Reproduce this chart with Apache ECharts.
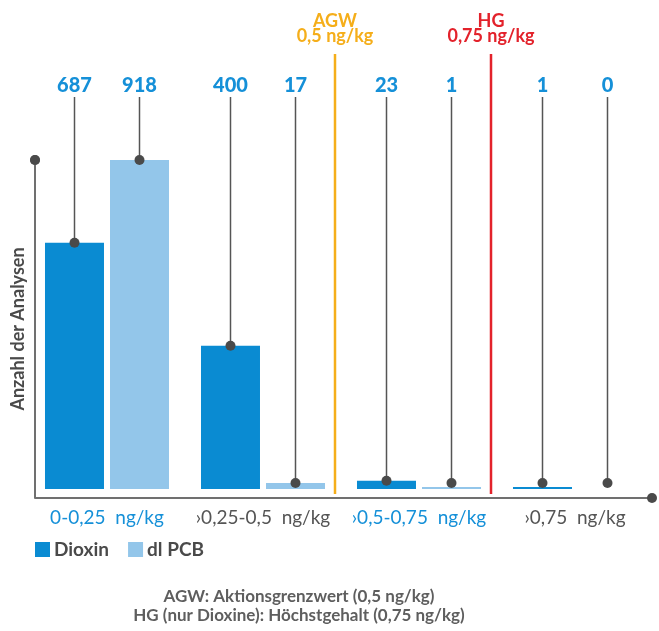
<!DOCTYPE html>
<html>
<head>
<meta charset="utf-8">
<script src="https://cdn.jsdelivr.net/npm/echarts@6/dist/echarts.min.js"></script>
<style>
  html, body { margin: 0; padding: 0; background: #fff; }
  #chart { width: 659px; height: 631px; }
</style>
</head>
<body>
<div id="chart"></div>
<script>
// Number of analyses per concentration class (ng/kg)
const categories = ['0-0,25  ng/kg', '›0,25-0,5  ng/kg', '›0,5-0,75  ng/kg', '›0,75  ng/kg'];
const dioxin = [687, 400, 23, 1];
const dlPcb = [918, 17, 1, 0];
const seriesNames = ['Dioxin', 'dl PCB'];
// Limit values drawn between the classes
const thresholdNames = ['AGW', 'HG'];
const thresholdValues = ['0,5 ng/kg', '0,75 ng/kg'];
const thresholdAfterClass = [1, 2];
const footnotes = [
  'AGW: Aktionsgrenzwert (0,5 ng/kg)',
  'HG (nur Dioxine): Höchstgehalt (0,75 ng/kg)'
];
const yAxisTitle = 'Anzahl der Analysen';

// Styling / layout
const FONT = 'Lato';
const BLUE = '#0a8bd2';
const LIGHT_BLUE = '#93c6ea';
const LABEL_BLUE = '#1590d8';
const DARK = '#4a4a4a';
const AXIS_GREY = '#707070';
const THRESHOLD_COLORS = ['#f5ae1a', '#e3222b'];
const GRID = { left: 29, right: 6, top: 160, bottom: 133 };
const Y_MIN = -25, Y_MAX = 918;
const BAR_WIDTH = 59, BAR_GAP_PX = 6;
const STEM_TOP = 97, VALUE_LABEL_Y = 86, DOT_R = 5, DOT_LIFT = 6;

const chart = echarts.init(document.getElementById('chart'), null, { renderer: 'canvas' });

function barData(values) {
  return values.map(v => v === 0 ? { value: v, itemStyle: { opacity: 0 } } : v);
}

const stemData = [];
[dioxin, dlPcb].forEach((vals, s) => vals.forEach((v, i) => stemData.push([i, v, s])));

const option = {
  animation: false,
  textStyle: { fontFamily: FONT },
  grid: Object.assign({ containLabel: false, outerBoundsMode: 'none' }, GRID),
  legend: {
    data: seriesNames,
    left: 30,
    top: 535,
    itemWidth: 15,
    itemHeight: 15,
    itemGap: 19,
    icon: 'rect',
    selectedMode: false,
    textStyle: { fontSize: 19, fontWeight: 'bold', color: DARK, fontFamily: FONT, padding: [0, 0, 0, -1] }
  },
  xAxis: {
    type: 'category',
    data: categories,
    axisLine: { show: false },
    axisTick: { show: false },
    axisLabel: {
      interval: 0,
      margin: 10,
      fontSize: 19,
      fontFamily: FONT,
      color: (val, idx) => (idx % 2 === 0 ? LABEL_BLUE : '#555555')
    }
  },
  yAxis: {
    type: 'value',
    min: Y_MIN,
    max: Y_MAX,
    offset: -6,
    splitLine: { show: false },
    axisTick: { show: false },
    axisLabel: { show: false },
    axisLine: {
      show: true,
      symbol: ['none', 'circle'],
      symbolSize: [10, 10],
      lineStyle: { color: AXIS_GREY, width: 2 }
    },
    name: yAxisTitle,
    nameLocation: 'middle',
    nameRotate: 90,
    nameGap: 8,
    nameTextStyle: { fontSize: 18, fontWeight: 'bold', color: DARK, fontFamily: FONT }
  },
  series: [
    {
      name: seriesNames[0],
      type: 'bar',
      data: barData(dioxin),
      barWidth: BAR_WIDTH,
      barGap: (BAR_GAP_PX / BAR_WIDTH * 100).toFixed(1) + '%',
      barMinHeight: 2,
      itemStyle: { color: BLUE }
    },
    {
      name: seriesNames[1],
      type: 'bar',
      data: barData(dlPcb),
      barWidth: BAR_WIDTH,
      barMinHeight: 2,
      itemStyle: { color: LIGHT_BLUE }
    },
    {
      // value labels with stems and dots on top of each bar
      type: 'custom',
      data: stemData,
      z: 5,
      renderItem: function (params, api) {
        const cat = api.value(0), v = api.value(1), s = api.value(2);
        const base = api.coord([cat, 0]);
        const top = api.coord([cat, v]);
        const x = base[0] + (s === 0 ? -1 : 1) * (BAR_WIDTH + BAR_GAP_PX) / 2;
        const dotY = Math.min(top[1], base[1] - DOT_LIFT);
        return {
          type: 'group',
          children: [
            { type: 'line', shape: { x1: x, y1: STEM_TOP, x2: x, y2: dotY },
              style: { stroke: '#555555', lineWidth: 1.5 } },
            { type: 'circle', shape: { cx: x, cy: dotY, r: DOT_R }, style: { fill: DARK } },
            { type: 'text', style: { text: String(v), x: x, y: VALUE_LABEL_Y,
                align: 'center', verticalAlign: 'middle', fill: LABEL_BLUE,
                fontSize: 20, fontWeight: 900, fontFamily: FONT } }
          ]
        };
      }
    }
  ]
};

chart.setOption(option);

// Axis base line, end dots, limit lines and notes
const axisY = chart.convertToPixel({ yAxisIndex: 0 }, Y_MIN);
const axisTopY = chart.convertToPixel({ yAxisIndex: 0 }, Y_MAX);
const axisX = GRID.left + 6;
const rightX = 659 - GRID.right - 1;
const graphics = [
  { type: 'line', shape: { x1: axisX, y1: axisY, x2: rightX, y2: axisY },
    style: { stroke: AXIS_GREY, lineWidth: 2 } },
  { type: 'circle', shape: { cx: rightX, cy: axisY, r: 5 }, style: { fill: DARK } },
  { type: 'circle', shape: { cx: axisX, cy: axisTopY, r: 5 }, style: { fill: DARK }, z: 10 }
];
thresholdNames.forEach((name, k) => {
  const i = thresholdAfterClass[k];
  const x = (chart.convertToPixel({ xAxisIndex: 0 }, i) + chart.convertToPixel({ xAxisIndex: 0 }, i + 1)) / 2 - 6;
  graphics.push(
    { type: 'line', shape: { x1: x, y1: 54, x2: x, y2: axisY - 4 },
      style: { stroke: THRESHOLD_COLORS[k], lineWidth: 2.5 } },
    { type: 'text', style: { text: name + '\n' + thresholdValues[k], x: x, y: 29,
        align: 'center', verticalAlign: 'middle', fill: THRESHOLD_COLORS[k],
        fontSize: 18, fontWeight: 'bold', fontFamily: FONT, lineHeight: 15 } }
  );
});
footnotes.forEach((t, k) => {
  graphics.push({ type: 'text', style: { text: t, x: 299, y: 597 + k * 19,
    align: 'center', verticalAlign: 'middle', fill: '#5e5e5e',
    fontSize: 17, fontWeight: 'bold', fontFamily: FONT } });
});
chart.setOption({ graphic: graphics });
</script>
</body>
</html>
